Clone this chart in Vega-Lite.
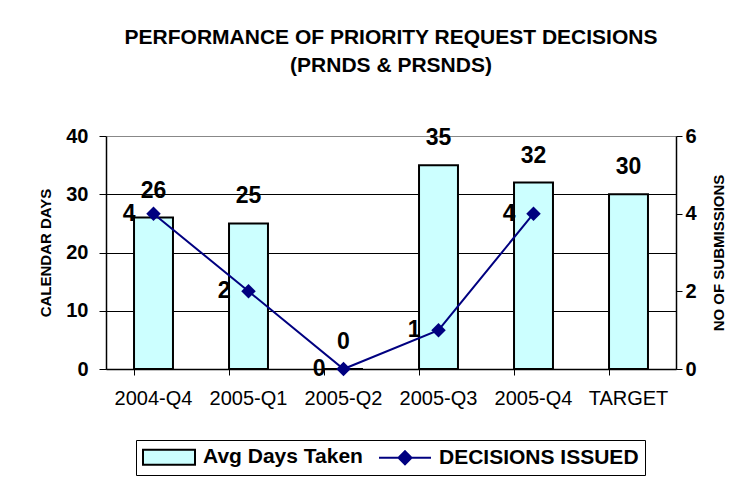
{
  "$schema": "https://vega.github.io/schema/vega-lite/v6.json",
  "width": 570,
  "height": 233,
  "autosize": {"type": "none"},
  "padding": {"left": 106, "top": 136, "right": 71, "bottom": 109},
  "background": "white",
  "title": {
    "text": ["PERFORMANCE OF PRIORITY REQUEST DECISIONS", "(PRNDS & PRSNDS)"],
    "anchor": "middle",
    "font": "Liberation Sans",
    "fontSize": 21,
    "fontWeight": "bold",
    "color": "black",
    "lineHeight": 28,
    "offset": 50
  },
  "data": {
    "values": [
      {"period": "2004-Q4", "days": 26, "decisions": 4},
      {"period": "2005-Q1", "days": 25, "decisions": 2},
      {"period": "2005-Q2", "days": 0, "decisions": 0},
      {"period": "2005-Q3", "days": 35, "decisions": 1},
      {"period": "2005-Q4", "days": 32, "decisions": 4},
      {"period": "TARGET", "days": 30, "decisions": null}
    ]
  },
  "config": {"view": {"stroke": null}, "font": "Liberation Sans"},
  "layer": [
    {
      "layer": [
        {
          "mark": {"type": "bar", "stroke": "black", "strokeWidth": 2},
          "encoding": {
            "x": {
              "field": "period",
              "type": "nominal",
              "sort": null,
              "scale": {
                "domain": ["2004-Q4", "2005-Q1", "2005-Q2", "2005-Q3", "2005-Q4", "TARGET"],
                "paddingInner": 0.59,
                "paddingOuter": 0.295
              },
              "axis": {
                "title": null,
                "orient": "bottom",
                "labelAngle": 0,
                "labelFont": "Liberation Sans",
                "labelFontSize": 20,
                "labelColor": "black",
                "labelPadding": 19,
                "ticks": false,
                "tickSize": 0,
                "domain": true,
                "domainColor": "black",
                "domainWidth": 1.5,
                "grid": false
              }
            },
            "y": {
              "field": "days",
              "type": "quantitative",
              "scale": {"domain": [0, 40], "nice": false},
              "axis": {
                "orient": "left",
                "title": "CALENDAR DAYS",
                "titleFont": "Liberation Sans",
                "titleFontSize": 15,
                "titleFontWeight": "bold",
                "titleColor": "black",
                "titlePadding": 12,
                "values": [0, 10, 20, 30, 40],
                "labelFont": "Liberation Sans",
                "labelFontSize": 20,
                "labelFontWeight": "bold",
                "labelColor": "black",
                "labelPadding": 11,
                "tickSize": 7,
                "tickColor": "black",
                "domainColor": "black",
                "domainWidth": 1.5,
                "grid": true,
                "gridColor": {"condition": {"test": "datum.value === 40", "value": "#888888"}, "value": "#000000"},
                "gridOpacity": 1,
                "gridWidth": 1
              }
            },
            "fill": {
              "datum": "Avg Days Taken",
              "type": "nominal",
              "scale": {"domain": ["Avg Days Taken", "DECISIONS ISSUED"], "range": ["#CCFFFF", "#000080"]},
              "legend": {
                "title": null,
                "orient": "none",
                "legendX": 30,
                "legendY": 304,
                "direction": "horizontal",
                "labelFont": "Liberation Sans",
                "labelFontSize": 21,
                "labelFontWeight": "bold",
                "labelColor": "black",
                "labelLimit": 400,
                "strokeColor": "#000000",
                "fillColor": "white",
                "padding": 6,
                "symbolSize": 400,
                "columnPadding": 12,
                "labelOffset": 39,
                "symbolOpacity": 1,
                "symbolStrokeWidth": 2,
                "symbolType": {"expr": "datum.value === 'Avg Days Taken' ? 'M-1,-0.75H4.2V0.75H-1Z' : 'M-1,0H4.2M1.6,-0.65L2.25,0L1.6,0.65L0.95,0Z'"},
                "symbolStrokeColor": {"expr": "datum.value === 'Avg Days Taken' ? '#000000' : '#000080'"}
              }
            }
          }
        },
        {
          "mark": {"type": "text", "font": "Liberation Sans", "fontSize": 23, "fontWeight": "bold", "baseline": "middle", "dy": -27, "color": "black"},
          "encoding": {
            "x": {"field": "period", "type": "nominal", "sort": null},
            "y": {"field": "days", "type": "quantitative"},
            "text": {"field": "days", "type": "quantitative"}
          }
        }
      ]
    },
    {
      "transform": [{"filter": "isValid(datum.decisions)"}],
      "layer": [
        {
          "mark": {"type": "line", "color": "#000080", "strokeWidth": 2},
          "encoding": {
            "x": {
              "field": "period",
              "type": "nominal",
              "sort": null,
              "axis": {
                "title": null,
                "orient": "bottom",
                "labels": false,
                "domain": false,
                "ticks": true,
                "tickSize": 6,
                "tickColor": "black",
                "tickWidth": 1,
                "bandPosition": 0,
                "grid": false
              }
            },
            "y": {
              "field": "decisions",
              "type": "quantitative",
              "scale": {"domain": [0, 6], "nice": false},
              "axis": {
                "orient": "right",
                "title": "NO OF SUBMISSIONS",
                "titleAngle": 270,
                "titleBaseline": "top",
                "titleFont": "Liberation Sans",
                "titleFontSize": 15,
                "titleFontWeight": "bold",
                "titleColor": "black",
                "titlePadding": 15,
                "values": [0, 2, 4, 6],
                "labelFont": "Liberation Sans",
                "labelFontSize": 20,
                "labelFontWeight": "bold",
                "labelColor": "black",
                "labelPadding": 3,
                "tickSize": 6,
                "tickColor": "black",
                "domainColor": "black",
                "domainWidth": 1.5,
                "grid": false
              }
            }
          }
        },
        {
          "mark": {"type": "point", "shape": "diamond", "filled": true, "size": 210, "color": "#000080", "opacity": 1},
          "encoding": {
            "x": {"field": "period", "type": "nominal", "sort": null},
            "y": {"field": "decisions", "type": "quantitative"}
          }
        },
        {
          "mark": {"type": "text", "font": "Liberation Sans", "fontSize": 23, "fontWeight": "bold", "baseline": "middle", "align": "right", "dx": -18, "color": "black"},
          "encoding": {
            "x": {"field": "period", "type": "nominal", "sort": null},
            "y": {"field": "decisions", "type": "quantitative"},
            "text": {"field": "decisions", "type": "quantitative"}
          }
        }
      ]
    }
  ],
  "resolve": {"scale": {"y": "independent"}, "axis": {"x": "independent"}}
}
